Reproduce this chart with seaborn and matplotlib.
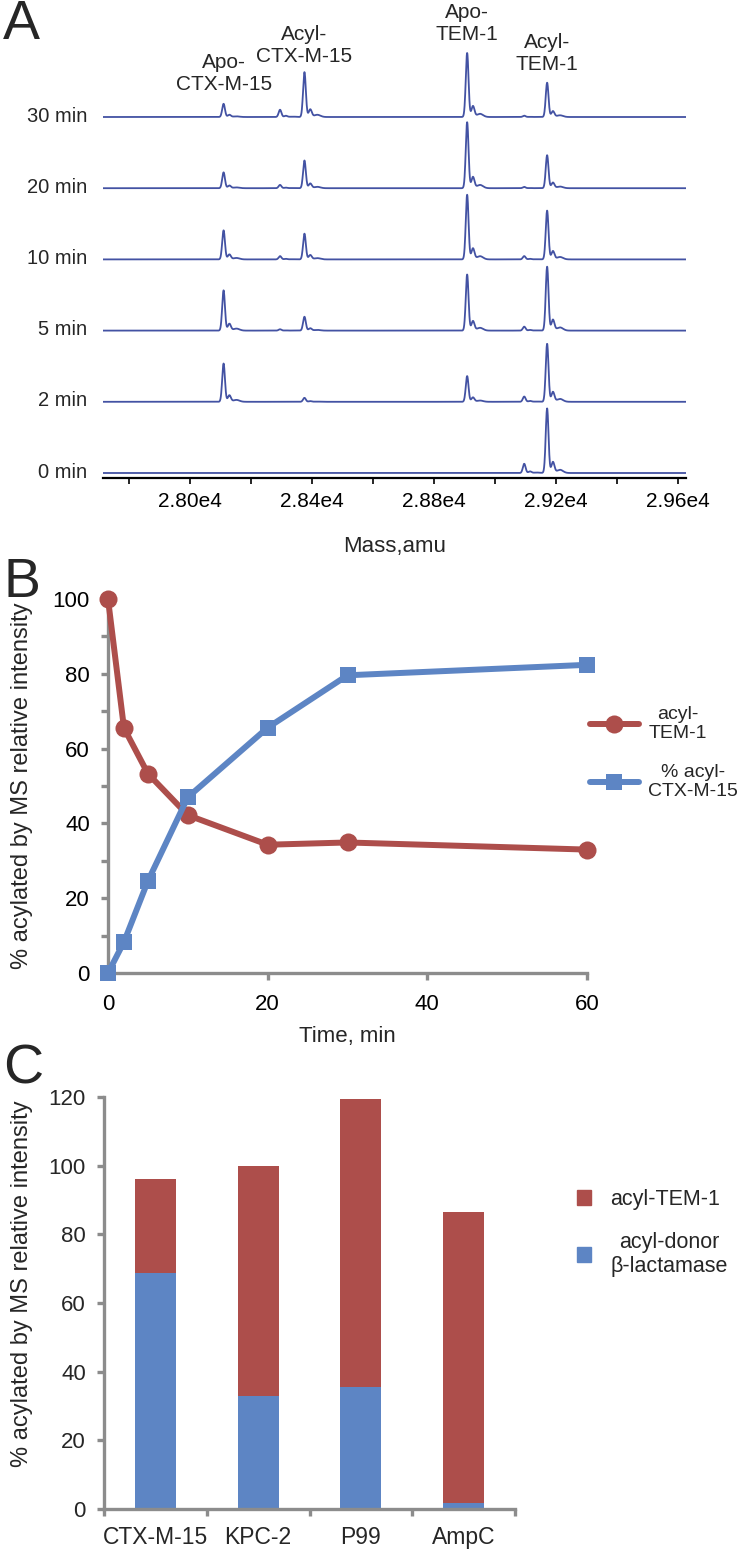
import numpy as np
import pandas as pd
import matplotlib
matplotlib.use("Agg")
import matplotlib.pyplot as plt
import seaborn as sns
from matplotlib.ticker import MultipleLocator, FuncFormatter, FixedLocator
from matplotlib.lines import Line2D
from matplotlib.patches import Patch

# ---- data ----
# A: deconvoluted mass spectra, one row of peak heights per time point
spectra_times = ["0 min", "2 min", "5 min", "10 min", "20 min", "30 min"]
peak_masses = [28110, 28295, 28375, 28908, 29095, 29170]
peak_labels = ["Apo-\nCTX-M-15", "", "Acyl-\nCTX-M-15", "Apo-\nTEM-1", "", "Acyl-\nTEM-1"]
peak_heights = [
    [0, 0, 0, 0, 14, 98],
    [58, 0, 6, 39, 8, 88],
    [61, 2, 21, 85, 6, 97],
    [44, 5, 39, 98, 5, 74],
    [24, 5, 42, 100, 2, 50],
    [20, 11, 68, 97, 2, 52],
]

# B: time course
time_min = [0, 2, 5, 10, 20, 30, 60]
acyl_tem1 = [100, 65.5, 53.3, 42.2, 34.3, 34.9, 33.0]
acyl_ctx = [0, 8.3, 24.6, 47.0, 65.6, 79.6, 82.4]

# C: stacked bars
donors = ["CTX-M-15", "KPC-2", "P99", "AmpC"]
acyl_donor = [68.8, 33.0, 35.5, 1.8]
acyl_tem_c = [27.2, 66.8, 83.8, 84.7]

# ---- style ----
sns.set_style("white")
plt.rcParams["font.family"] = ["Liberation Sans", "DejaVu Sans"]

RED = "#AD4E4B"
BLUE = "#5D85C4"
TRACE = "#4352A3"
GREY = "#8C8C8C"

W, H = 739, 1553
fig = plt.figure(figsize=(W / 100, H / 100), dpi=100)


def px_axes(l, t, r, b):
    return fig.add_axes([l / W, 1 - b / H, (r - l) / W, (b - t) / H])


# ---------------- panel A ----------------
axA = px_axes(103, 0, 686, 478)
mass = np.linspace(27715, 29625, 3000)
spacing, base0, scale = 71.2, 5, 0.66
rows = []
for i, (t, hts) in enumerate(zip(spectra_times, peak_heights)):
    y = np.zeros_like(mass)
    for m, h in zip(peak_masses, hts):
        y += h * np.exp(-0.5 * ((mass - m) / 4.5) ** 2)
        y += 0.17 * h * np.exp(-0.5 * ((mass - m - 19) / 5.0) ** 2)
        y += 0.05 * h * np.exp(-0.5 * ((mass - m - 42) / 10.0) ** 2)
    rows.append(pd.DataFrame({"mass": mass, "y": base0 + i * spacing + scale * y, "time": t}))
dfA = pd.concat(rows)
sns.lineplot(data=dfA, x="mass", y="y", units="time", estimator=None,
             color=TRACE, lw=1.3, ax=axA)
axA.set_xlim(27715, 29625)
axA.set_ylim(0, 478)
for s in ["top", "right", "left"]:
    axA.spines[s].set_visible(False)
axA.spines["bottom"].set_color("black")
axA.spines["bottom"].set_linewidth(1.6)
axA.xaxis.set_major_locator(MultipleLocator(400))
axA.xaxis.set_minor_locator(MultipleLocator(200))
axA.xaxis.set_major_formatter(FuncFormatter(lambda v, p: f"{v / 1e4:.2f}e4"))
axA.tick_params(axis="x", which="both", direction="out", length=4, width=1.2,
                colors="black", labelsize=15, pad=6, bottom=True)
axA.set_yticks([])
axA.set_xlabel("Mass,amu", fontsize=16, labelpad=18)
axA.set_ylabel("")
for i, t in enumerate(spectra_times):
    axA.text(27715 - 16 * 3.27, base0 + i * spacing + 1, t, ha="right", va="center",
             fontsize=14.5, clip_on=False)
label_y = [74, 0, 46, 24, 0, 54]
for m, lab, ly in zip(peak_masses, peak_labels, label_y):
    if lab:
        axA.text(m, 478 - ly, lab, ha="center", va="center", fontsize=15,
                 linespacing=1.2, clip_on=False)

# ---------------- panel B ----------------
axB = px_axes(108, 599, 587, 973)
dfB = pd.DataFrame({
    "time": time_min * 2,
    "value": acyl_tem1 + acyl_ctx,
    "series": ["tem"] * len(time_min) + ["ctx"] * len(time_min),
})
sns.lineplot(data=dfB[dfB.series == "tem"], x="time", y="value", color=RED, lw=4.3,
             marker="o", markersize=13, markeredgewidth=0, clip_on=False, ax=axB, zorder=3)
sns.lineplot(data=dfB[dfB.series == "ctx"], x="time", y="value", color=BLUE, lw=4.3,
             marker="s", markersize=12, markeredgewidth=0, clip_on=False, ax=axB, zorder=4)
axB.set_xlim(0, 60)
axB.set_ylim(0, 100)
for s in ["top", "right"]:
    axB.spines[s].set_visible(False)
for s in ["left", "bottom"]:
    axB.spines[s].set_color(GREY)
    axB.spines[s].set_linewidth(2.4)
axB.xaxis.set_major_locator(MultipleLocator(20))
axB.yaxis.set_major_locator(MultipleLocator(20))
axB.yaxis.set_minor_locator(MultipleLocator(10))
axB.tick_params(which="both", direction="out", length=5, width=2.4, color=GREY,
                labelsize=16, labelcolor="black", left=True, bottom=True)
axB.tick_params(axis="y", pad=8)
axB.tick_params(axis="x", pad=10)
axB.set_xlabel("Time, min", fontsize=16, labelpad=8)
axB.set_ylabel("% acylated by MS relative intensity", fontsize=17)
axB.yaxis.set_label_coords((22 - 108) / 479, 0.5)
axB.yaxis.label.set_va("center")
hB = [Line2D([], [], color=RED, lw=4.3, marker="o", markersize=13, markeredgewidth=0),
      Line2D([], [], color=BLUE, lw=4.3, marker="s", markersize=12, markeredgewidth=0)]
legB = axB.legend(hB, ["acyl-\nTEM-1", "% acyl-\nCTX-M-15"], loc="center left",
                  bbox_to_anchor=(0.99, 0.588), frameon=False, fontsize=14,
                  handlelength=2.5, handletextpad=0.5, labelspacing=1.1, borderaxespad=0)
for txt in legB.get_texts():
    txt.set_multialignment("center")

# ---------------- panel C ----------------
axC = px_axes(104, 1097, 515, 1509)
totals = [a + b for a, b in zip(acyl_donor, acyl_tem_c)]
sns.barplot(x=donors, y=totals, color=RED, width=0.4, saturation=1, linewidth=0, ax=axC)
sns.barplot(x=donors, y=acyl_donor, color=BLUE, width=0.4, saturation=1, linewidth=0, ax=axC)
axC.set_xlim(-0.5, 3.5)
axC.set_ylim(0, 120)
for s in ["top", "right"]:
    axC.spines[s].set_visible(False)
for s in ["left", "bottom"]:
    axC.spines[s].set_color(GREY)
    axC.spines[s].set_linewidth(2.4)
axC.yaxis.set_major_locator(MultipleLocator(20))
axC.xaxis.set_minor_locator(FixedLocator([-0.5, 0.5, 1.5, 2.5, 3.5]))
axC.tick_params(axis="y", which="both", direction="out", length=5, width=2.4, color=GREY,
                labelsize=16, pad=8, left=True)
axC.tick_params(axis="x", which="major", length=0, labelsize=16.5, pad=12)
axC.tick_params(axis="x", which="minor", direction="out", length=5, width=2.4,
                color=GREY, bottom=True)
axC.set_ylabel("% acylated by MS relative intensity", fontsize=17)
axC.yaxis.set_label_coords((22 - 104) / 411, 0.546)
axC.yaxis.label.set_va("center")
hC = [Patch(color=RED), Patch(color=BLUE)]
legC = axC.legend(hC, ["acyl-TEM-1", "acyl-donor\nβ-lactamase"], loc="center left",
                  bbox_to_anchor=(1.13, 0.67), frameon=False, fontsize=15.5,
                  handlelength=0.65, handleheight=0.65, handletextpad=0.9, labelspacing=1.0,
                  borderaxespad=0)
for txt in legC.get_texts():
    txt.set_multialignment("center")

# panel letters
fig.text(3 / W, 1 - 25 / H, "A", fontsize=40, va="center")
fig.text(3 / W, 1 - 583 / H, "B", fontsize=40, va="center")
fig.text(3 / W, 1 - 1070 / H, "C", fontsize=40, va="center")

fig.savefig("out.png", dpi=100)
